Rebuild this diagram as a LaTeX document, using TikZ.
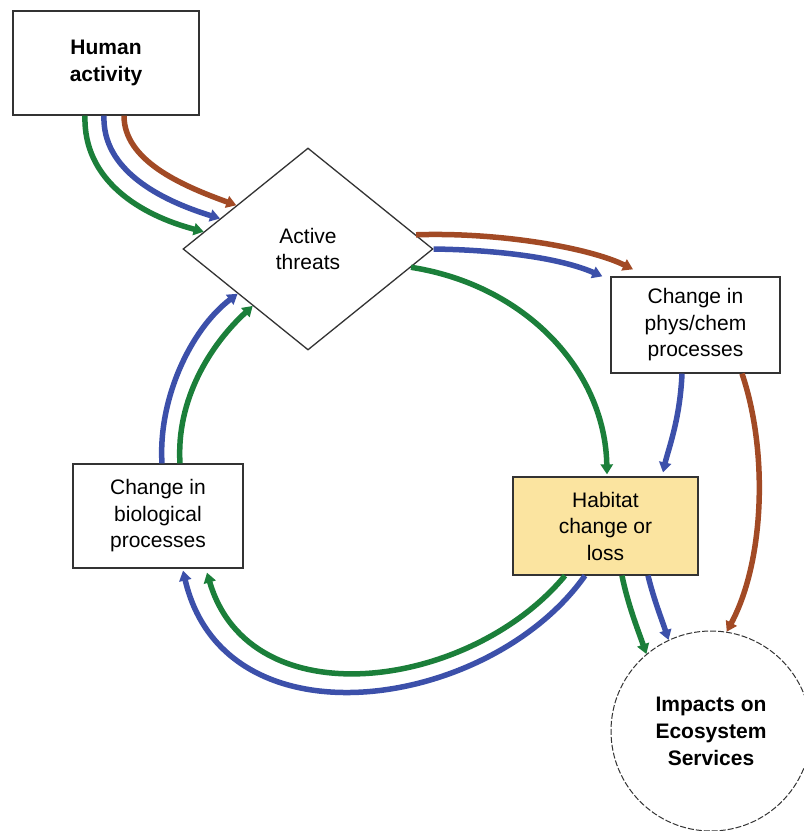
\documentclass[tikz,border=0pt]{standalone}
\usepackage{fontspec}
\setmainfont{Liberation Sans}
\usetikzlibrary{shapes.geometric,arrows.meta,calc}
\definecolor{cbrown}{HTML}{A24A25}
\definecolor{cblue}{HTML}{3C50AA}
\definecolor{cgreen}{HTML}{1B7F3A}
\definecolor{cyell}{HTML}{FBE4A0}
\tikzset{
  lbl/.style={align=center,font=\fontsize{21}{26.5}\selectfont,inner sep=0pt},
  boxx/.style={lbl,draw=black!80,line width=1.3pt,fill=white},
  flow/.style={line width=5.5pt,-{Triangle[length=10pt,width=12pt]}},
}
\begin{document}
\begin{tikzpicture}[x=1pt,y=-1pt]
\useasboundingbox (0,0) rectangle (804,831);
\fill[white] (0,0) rectangle (804,831);
\node[boxx,minimum width=186pt,minimum height=104pt,font=\fontsize{21}{27}\selectfont\bfseries] (hum) at (106,63) {Human\\activity};
\node[boxx,shape=diamond,minimum width=250pt,minimum height=202pt] (thr) at (308,249) {Active\\threats};
\node[boxx,minimum width=169pt,minimum height=96pt] (phys) at (695.5,325) {Change in\\phys/chem\\processes};
\node[boxx,fill=cyell,minimum width=185pt,minimum height=98pt] (hab) at (605.5,526) {Habitat\\change or\\loss};
\node[boxx,minimum width=170pt,minimum height=104pt] (bio) at (158,516) {Change in\\biological\\processes};
\node[boxx,shape=circle,minimum size=200pt,line width=1pt,dash pattern=on 6pt off 2pt,font=\fontsize{21}{27}\selectfont\bfseries] (imp) at (711,731) {Impacts on\\Ecosystem\\Services};
% human -> threats
\draw[flow,cgreen] ([xshift=-21pt]hum.south) .. controls (83,180) and (140,215) .. ($(thr.west)!0.17!(thr.north)$);
\draw[flow,cblue] ([xshift=-2pt]hum.south) .. controls (102,170) and (160,200) .. ($(thr.west)!0.30!(thr.north)$);
\draw[flow,cbrown] ([xshift=18pt]hum.south) .. controls (124,160) and (180,185) .. ($(thr.west)!0.43!(thr.north)$);
% threats -> phys
\draw[flow,cbrown] ($(thr.north)!0.86!(thr.east)$) .. controls (500,232) and (590,248) .. ([xshift=-62.5pt,yshift=7pt]phys.north);
\draw[flow,cblue] (thr.east) .. controls (500,250) and (560,258) .. ([xshift=-8pt]phys.north west);
% threats -> habitat
\draw[flow,cgreen] ($(thr.east)!0.18!(thr.south)$) .. controls (525,285) and (605,370) .. ([xshift=1.5pt,yshift=2pt]hab.north);
% phys -> habitat, phys -> impacts
\draw[flow,cblue] ([xshift=-13.5pt]phys.south) .. controls (680,420) and (668,450) .. ([xshift=57.5pt,yshift=4pt]hab.north);
\draw[flow,cbrown] ([xshift=46.5pt]phys.south) .. controls (768,450) and (765,560) .. (imp.81);
% habitat -> impacts
\draw[flow,cgreen] ([xshift=16.5pt]hab.south) .. controls (628,605) and (638,630) .. (imp.130);
\draw[flow,cblue] ([xshift=42.5pt]hab.south) .. controls (654,600) and (662,620) .. (imp.115);
% habitat -> biological
\draw[flow,cgreen] ([xshift=-40.5pt]hab.south) .. controls (470,690) and (250,720) .. ([xshift=49pt,yshift=-4pt]bio.south);
\draw[flow,cblue] ([xshift=-20.5pt]hab.south) .. controls (490,710) and (225,750) .. ([xshift=25pt,yshift=-2pt]bio.south);
% biological -> threats
\draw[flow,cblue] ([xshift=4pt]bio.north) .. controls (158,400) and (190,330) .. ($(thr.west)!0.44!(thr.south)$);
\draw[flow,cgreen] ([xshift=22pt]bio.north) .. controls (176,400) and (210,345) .. ($(thr.west)!0.56!(thr.south)$);
\end{tikzpicture}
\end{document}
